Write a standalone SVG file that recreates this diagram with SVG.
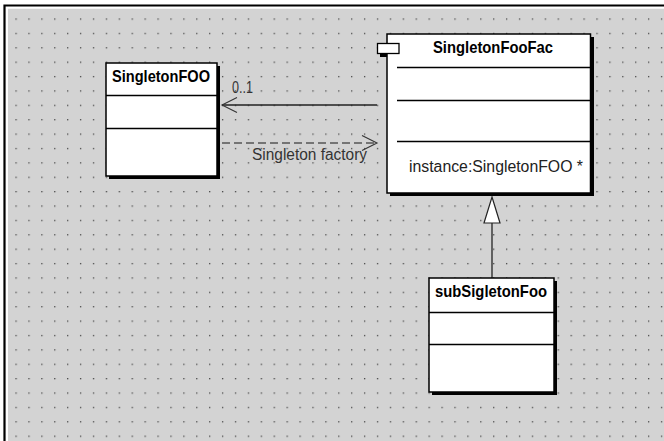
<svg xmlns="http://www.w3.org/2000/svg" width="664" height="441" viewBox="0 0 664 441">
<defs>
<pattern id="grid" patternUnits="userSpaceOnUse" x="15.4" y="18.4" width="12.91" height="14.385">
<rect x="0" y="0" width="1.3" height="1.3" fill="#4a4a4a"/>
</pattern>
<marker id="open" markerWidth="18" markerHeight="18" refX="16" refY="8" orient="auto" markerUnits="userSpaceOnUse">
<path d="M1,0.5 L16,8 L1,15.5" fill="none" stroke="#333" stroke-width="1.1"/>
</marker>
</defs>
<style>
.box{fill:#fff;stroke:#000;stroke-width:1.5}
.shadow{fill:#000}
.sep{stroke:#000;stroke-width:1.3}
.title{font-family:"Liberation Sans",Arial,sans-serif;font-weight:bold;font-size:17px;fill:#000}
.lbl{font-family:"Liberation Sans",Arial,sans-serif;font-size:16px;fill:#333}
.attr{font-family:"Liberation Sans",Arial,sans-serif;font-size:16px;fill:#222}
</style>
<rect x="0" y="0" width="664" height="441" fill="#fff"/>
<rect x="8" y="8" width="656" height="433" fill="#d3d3d3"/>
<rect x="8" y="8" width="656" height="433" fill="url(#grid)"/>
<path d="M4.5,441 V5.5 H664" fill="none" stroke="#000" stroke-width="2.2"/>
<path d="M7,441 V8 H664" fill="none" stroke="#fff" stroke-width="1.6"/>

<g id="connectors">
<line x1="377" y1="105" x2="222" y2="105" stroke="#222" stroke-width="1.3" marker-end="url(#open)"/>
<text class="lbl" x="232" y="93" textLength="21" lengthAdjust="spacingAndGlyphs">0..1</text>
<line x1="222" y1="143" x2="377" y2="143" stroke="#555" stroke-width="1.3" stroke-dasharray="8,4" marker-end="url(#open)"/>
<text class="lbl" x="252" y="160" textLength="115" lengthAdjust="spacingAndGlyphs">Singleton factory</text>
<line x1="492" y1="223" x2="492" y2="278" stroke="#222" stroke-width="1.3"/>
<path d="M492,197 L500,223 L484,223 Z" fill="#fff" stroke="#222" stroke-width="1.2"/>
</g>

<g id="SingletonFOO">
<rect class="shadow" x="109" y="66" width="111" height="113"/>
<rect class="box" x="106" y="63" width="111" height="113"/>
<line class="sep" x1="106" y1="95.5" x2="217" y2="95.5"/>
<line class="sep" x1="106" y1="128.5" x2="217" y2="128.5"/>
<text class="title" x="112" y="82" textLength="98" lengthAdjust="spacingAndGlyphs">SingletonFOO</text>
</g>

<g id="SingletonFooFac">
<rect class="shadow" x="380" y="46" width="22" height="11"/>
<rect class="shadow" x="390" y="37" width="204" height="159"/>
<rect class="box" x="387" y="34" width="203.5" height="159"/>
<rect x="377.5" y="43.5" width="21.5" height="10" fill="#fff" stroke="#000" stroke-width="1.3"/>
<line class="sep" x1="397" y1="67.5" x2="590" y2="67.5"/>
<line class="sep" x1="397" y1="100.5" x2="590" y2="100.5"/>
<line class="sep" x1="397" y1="141.5" x2="590" y2="141.5"/>
<text class="title" x="433" y="53" textLength="120" lengthAdjust="spacingAndGlyphs">SingletonFooFac</text>
<text class="attr" x="409" y="172" textLength="174" lengthAdjust="spacingAndGlyphs">instance:SingletonFOO *</text>
</g>

<g id="subSigletonFoo">
<rect class="shadow" x="432" y="281" width="125" height="114"/>
<rect class="box" x="429" y="278" width="125" height="114"/>
<line class="sep" x1="429" y1="312.5" x2="554" y2="312.5"/>
<line class="sep" x1="429" y1="344.5" x2="554" y2="344.5"/>
<text class="title" x="435" y="297" textLength="112" lengthAdjust="spacingAndGlyphs">subSigletonFoo</text>
</g>
</svg>
